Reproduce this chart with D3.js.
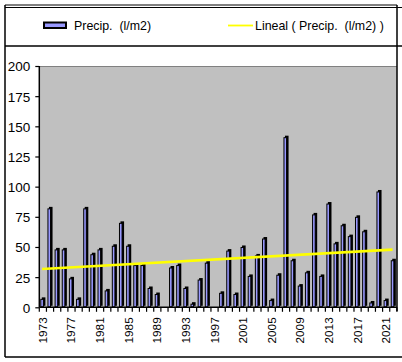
<!DOCTYPE html>
<html><head><meta charset="utf-8">
<script src="https://cdn.jsdelivr.net/npm/d3@7"></script>
<style>
html,body{margin:0;padding:0;background:#fff;}
svg{display:block;font-family:Arial,"Liberation Sans",sans-serif;}
text{white-space:pre;}
</style></head>
<body><svg id="c" width="402" height="362"></svg>
<script>
const years = [1973,1974,1975,1976,1977,1978,1979,1980,1981,1982,
  1983,1984,1985,1986,1987,1988,1989,1990,1991,1992,
  1993,1994,1995,1996,1997,1998,1999,2000,2001,2002,
  2003,2004,2005,2006,2007,2008,2009,2010,2011,2012,
  2013,2014,2015,2016,2017,2018,2019,2020,2021,2022];
const precip = [7,82,48,48,24,7,82,44,48,14,
  51,70,51,35,35,16,11,0,33,35,
  16,3,23,37,0,12,47,11,50,26,
  43,57,6,27,141,39,18,29,77,26,
  86,53,68,59,75,63,4,96,6,39];
const trendYears = [1973, 2022];
const trendValues = [31.8, 47.8];
const yTicks = [0,25,50,75,100,125,150,175,200];
const xTickLabels = [1973,1977,1981,1985,1989,1993,1997,2001,2005,2009,2013,2017,2021];
const seriesName = "Precip.  (l/m2)";
const trendName = "Lineal ( Precip.  (l/m2) )";

const svg = d3.select("#c");
const L = 39.3, R = 396.9, T = 66, B = 307.3;

const x = d3.scaleBand().domain(years).range([L, R]).padding(0);
const y = d3.scaleLinear().domain([0, 200]).range([B, T]);

// frame lines
const frame = [
  [5,5,397,5,1],[5,7.5,402,7.5,1],[5,46,402,46,1.5],
  [5,5,5,357,1.5],[5,357,402,357,1.5]
];
svg.selectAll("line.frame").data(frame).join("line").attr("class","frame")
  .attr("x1",d=>d[0]).attr("y1",d=>d[1]).attr("x2",d=>d[2]).attr("y2",d=>d[3])
  .attr("stroke","#000").attr("stroke-width",d=>d[4]);

// plot area
svg.append("rect").attr("x",L).attr("y",T).attr("width",R-L).attr("height",B-T)
  .attr("fill","#c0c0c0");
svg.append("line").attr("x1",L).attr("x2",R).attr("y1",T+0.5).attr("y2",T+0.5)
  .attr("stroke","#808080").attr("stroke-width",1);
svg.append("line").attr("x1",397).attr("x2",397).attr("y1",5).attr("y2",B+4)
  .attr("stroke","#000").attr("stroke-width",1.5);

// bars (with slight 3D depth)
const bw = 3.6, depth = 1.5, off = 1.0;
const g = svg.append("g");
g.selectAll("rect.side").data(years).join("rect").attr("class","side")
  .attr("x",(d)=>x(d)+off+depth)
  .attr("y",(d,i)=>y(precip[i])-depth)
  .attr("width",bw)
  .attr("height",(d,i)=>B-y(precip[i]))
  .attr("fill","#000")
  .attr("opacity",(d,i)=>precip[i]>0?1:0);
g.selectAll("rect.front").data(years).join("rect").attr("class","front")
  .attr("x",(d)=>x(d)+off+0.5)
  .attr("y",(d,i)=>y(precip[i])+0.5)
  .attr("width",bw-1)
  .attr("height",(d,i)=>Math.max(0,B-y(precip[i])-1))
  .attr("fill","#9999ff").attr("stroke","#000").attr("stroke-width",1)
  .attr("opacity",(d,i)=>precip[i]>0?1:0);

// trend line
const tx = d => x(d) + x.bandwidth()/2 - 0.8;
svg.append("line")
  .attr("x1",tx(trendYears[0])).attr("x2",tx(trendYears[1]))
  .attr("y1",y(trendValues[0])).attr("y2",y(trendValues[1]))
  .attr("stroke","#ffff00").attr("stroke-width",2.6);

// y axis
const yAxis = d3.axisLeft(y).tickValues(yTicks).tickSize(4).tickPadding(5);
const ya = svg.append("g").attr("transform",`translate(${L},0)`).call(yAxis);
ya.select(".domain").attr("stroke","#000").attr("stroke-width",1.5).attr("d",`M0,${T}V${B}`);
ya.selectAll(".tick line").attr("stroke","#000").attr("stroke-width",1.2);
ya.selectAll(".tick text").attr("font-size","13.5px").attr("fill","#000")
  .attr("font-family","Arial, 'Liberation Sans', sans-serif").attr("dy","0.36em");

// x axis
const xa = svg.append("g").attr("transform",`translate(0,${B})`);
xa.append("line").attr("x1",L).attr("x2",R).attr("y1",0).attr("y2",0)
  .attr("stroke","#000").attr("stroke-width",1.5);
const bounds = years.map(d=>x(d)).concat([R]);
xa.selectAll("line.tk").data(bounds).join("line").attr("class","tk")
  .attr("x1",d=>d).attr("x2",d=>d).attr("y1",0).attr("y2",4.5)
  .attr("stroke","#000").attr("stroke-width",1.2);
xa.selectAll("text").data(xTickLabels).join("text")
  .attr("transform",d=>`translate(${x(d)+x.bandwidth()/2+4},10) rotate(-90)`)
  .attr("text-anchor","end")
  .attr("font-size","11.8px").attr("fill","#000")
  .text(d=>d);

// legend
svg.append("rect").attr("x",44).attr("y",22.5).attr("width",22).attr("height",5.5)
  .attr("fill","#9999ff").attr("stroke","#000").attr("stroke-width",2);
svg.append("text").attr("x",74).attr("y",30).attr("font-size","12.4px").attr("fill","#000")
  .text(seriesName);
svg.append("line").attr("x1",228).attr("x2",253).attr("y1",25.5).attr("y2",25.5)
  .attr("stroke","#ffff00").attr("stroke-width",1.8);
svg.append("text").attr("x",255).attr("y",30).attr("font-size","12.4px").attr("fill","#000")
  .text(trendName);
</script></body></html>
